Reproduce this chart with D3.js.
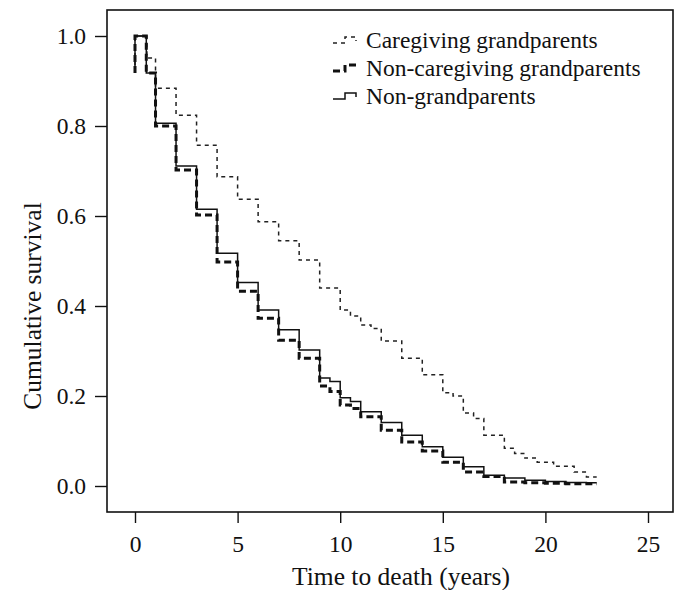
<!DOCTYPE html>
<html>
<head>
<meta charset="utf-8">
<script src="https://cdn.jsdelivr.net/npm/d3@7"></script>
<style>
  body { margin: 0; background: #fff; }
  text { font-family: "Liberation Serif", "Times New Roman", serif; fill: #111; }
</style>
</head>
<body>
<div id="chart"></div>
<script>
// survival step data, value holds from time[i] to time[i+1]
const careTimes = [0, 0, 0.58, 1, 2, 3, 4, 5, 6, 7, 8, 9, 10, 10.5, 11, 11.5, 12, 13, 14, 15, 15.5, 16, 16.5, 17, 18, 18.5, 19, 19.6, 20.4, 21.4, 22, 22.5]
const careSurv = [0.918, 1.0, 0.951, 0.884, 0.824, 0.757, 0.687, 0.637, 0.587, 0.545, 0.502, 0.44, 0.391, 0.378, 0.358, 0.35, 0.322, 0.284, 0.247, 0.207, 0.2, 0.162, 0.15, 0.113, 0.084, 0.072, 0.062, 0.053, 0.044, 0.031, 0.02, 0.02]

const nonCareTimes = [0, 0, 0.55, 1, 2, 3, 4, 5, 6, 7, 8, 9, 9.5, 10, 10.5, 11, 12, 13, 14, 15, 16, 17, 18, 19, 20, 21, 22, 22.5]
const nonCareSurv = [0.918, 1.0, 0.918, 0.80, 0.702, 0.602, 0.498, 0.433, 0.373, 0.324, 0.284, 0.222, 0.21, 0.18, 0.172, 0.154, 0.124, 0.098, 0.078, 0.053, 0.031, 0.021, 0.009, 0.007, 0.006, 0.005, 0.005, 0.005]

const nonGpTimes = [0, 0, 0.55, 1, 2, 3, 4, 5, 6, 7, 8, 9, 9.5, 10, 10.5, 11, 12, 13, 14, 15, 16, 17, 18, 19, 20, 21, 22, 22.5]
const nonGpSurv = [0.918, 1.0, 0.918, 0.806, 0.711, 0.615, 0.517, 0.452, 0.391, 0.347, 0.302, 0.24, 0.232, 0.196, 0.188, 0.165, 0.141, 0.113, 0.087, 0.064, 0.043, 0.024, 0.018, 0.013, 0.01, 0.008, 0.007, 0.007]

const xTicks = [0, 5, 10, 15, 20, 25]
const yTicks = [0, 0.2, 0.4, 0.6, 0.8, 1.0]
const seriesNames = ['Caregiving grandparents', 'Non-caregiving grandparents', 'Non-grandparents']

const canvasWidth = 678
const canvasHeight = 590
const box = {left: 107, right: 673, top: 10, bottom: 512}

const xScale = d3.scaleLinear().domain([0, 25]).range([135, 648])
const yScale = d3.scaleLinear().domain([0, 1]).range([486, 36])

const svg = d3.select('#chart')
  .append('svg')
  .attr('width', canvasWidth)
  .attr('height', canvasHeight)

// frame
svg.append('rect')
  .attr('x', box.left)
  .attr('y', box.top)
  .attr('width', box.right - box.left)
  .attr('height', box.bottom - box.top)
  .attr('fill', 'none')
  .attr('stroke', '#111')
  .attr('stroke-width', 1.6)

// y axis
const yAxis = svg.append('g')
  .attr('transform', `translate(${box.left}, 0)`)
  .call(d3.axisLeft(yScale).tickValues(yTicks).tickFormat(d3.format('.1f')).tickSize(12).tickPadding(9))
yAxis.select('.domain').remove()
yAxis.selectAll('line').attr('stroke', '#111').attr('stroke-width', 1.4)
yAxis.selectAll('text').attr('font-size', 23.5).attr('font-family', 'Liberation Serif').attr('fill', '#111')

// x axis
const xAxis = svg.append('g')
  .attr('transform', `translate(0, ${box.bottom})`)
  .call(d3.axisBottom(xScale).tickValues(xTicks).tickSize(11).tickPadding(12))
xAxis.select('.domain').remove()
xAxis.selectAll('line').attr('stroke', '#111').attr('stroke-width', 1.4)
xAxis.selectAll('text').attr('font-size', 23.5).attr('font-family', 'Liberation Serif').attr('fill', '#111')

svg.append('text')
  .attr('transform', 'translate(401, 585)')
  .attr('font-size', 25.5)
  .style('text-anchor', 'middle')
  .text('Time to death (years)')

svg.append('text')
  .attr('transform', 'translate(41, 306) rotate(-90)')
  .attr('font-size', 25.5)
  .style('text-anchor', 'middle')
  .text('Cumulative survival')

const styles = [
  {width: 1.5, dash: '4,4', color: '#222'},
  {width: 3, dash: '7,4', color: '#111'},
  {width: 1.5, dash: null, color: '#111'},
]

const line = d3.line()
  .x(d => xScale(d[0]))
  .y(d => yScale(d[1]))
  .curve(d3.curveStepAfter)

const series = [
  d3.zip(careTimes, careSurv),
  d3.zip(nonCareTimes, nonCareSurv),
  d3.zip(nonGpTimes, nonGpSurv),
]

// draw the thick dashed first so the thin ones sit on top
;[1, 0, 2].forEach(i => {
  svg.append('path')
    .datum(series[i])
    .attr('d', line)
    .attr('fill', 'none')
    .attr('stroke', styles[i].color)
    .attr('stroke-width', styles[i].width)
    .attr('stroke-dasharray', styles[i].dash)
})

// legend
const legend = svg.append('g')
seriesNames.forEach((name, i) => {
  const y = 40 + i * 28
  legend.append('path')
    .attr('d', `M333,${y + 3} H345 V${y - 3} H356 V${y + 1}`)
    .attr('fill', 'none')
    .attr('stroke', styles[i].color)
    .attr('stroke-width', styles[i].width)
    .attr('stroke-dasharray', styles[i].dash)
  legend.append('text')
    .attr('x', 366)
    .attr('y', y + 8)
    .attr('font-size', 23.5)
    .text(name)
})
</script>
</body>
</html>
